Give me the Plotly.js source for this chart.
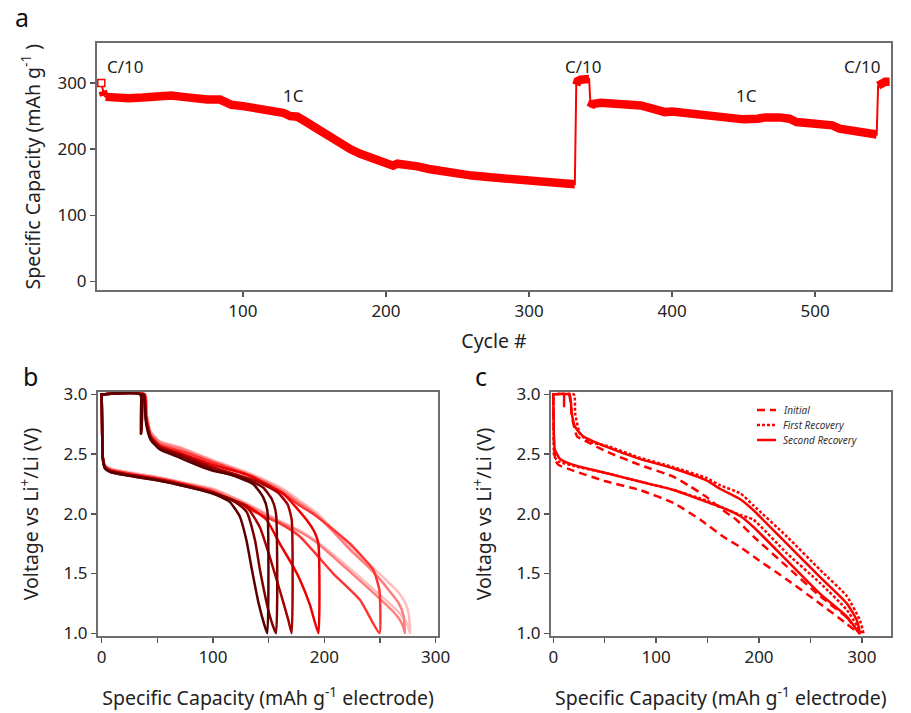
<!DOCTYPE html>
<html><head><meta charset="utf-8">
<script src="https://cdn.plot.ly/plotly-3.0.1.min.js"></script>
<style>html,body{margin:0;padding:0;background:#fff}#chart{width:911px;height:713px}</style>
</head><body><div id="chart"></div>
<script>
// ---------- Panel a : capacity vs cycle ----------
const cycC10a = [1, 2, 3];
const capC10a = [300, 288, 281];
const cyc1Ca = [4,10,20,30,38,44,50,58,65,75,84,87,92,100,110,120,128,133,138,142,148,155,161,168,175,182,190,199,205,208,215,222,230,240,250,260,275,290,303,315,322,326,332];
const cap1Ca = [279,278,277,278,280,282,281,279,277,275,275,271,267,265,262,259,255,250,249,244,236,225,216,207,200,193,187,180,175,178,177,174,170,166,163,160,157,155,154,152,151,148,147];
const cycC10b = [333, 334, 336, 339, 342];
const capC10b = [297, 303, 305, 305, 306];
const cyc1Cb = [343,344,350,360,370,378,385,390,395,400,410,420,430,440,450,460,465,475,482,487,495,505,512,517,522,530,537,543];
const cap1Cb = [263,268,270,269,268,266,262,259,256,257,255,252,249,246,245,246,248,248,246,241,240,238,236,231,229,225,223,222];
const cycC10c = [544, 546, 549, 552];
const capC10c = [296, 300, 302, 302];
const rateLabels = ['C/10', '1C', 'C/10', '1C', 'C/10'];
const rateLabelCycle = [18, 135, 338, 452, 533];
const rateLabelCap = [325, 281, 325, 281, 325];

// ---------- Panel b : voltage profiles (charge branch "Up", discharge branch "Low") ----------
const b1UpQ = [148.8,148.8,145,136,115,100,88,70,52,44,40,37.5,36,35.2,34.5,0];
const b1UpV = [1.0,2.03,2.14,2.25,2.33,2.36,2.40,2.47,2.54,2.62,2.75,3.0,3.0,2.67,3.0,3.0];
const b1LowQ = [0,0.3,0.8,1.5,3,8,30,50,75,100,115,124,130,135,141,146.5,148.8];
const b1LowV = [3.0,2.8,2.5,2.43,2.38,2.35,2.31,2.28,2.23,2.17,2.10,1.98,1.78,1.53,1.25,1.06,1.0];

const b2UpQ = [156.6,156.6,153,145,130,100,70,52,44,40,37.8,36.2,35.5,34.8,0];
const b2UpV = [1.0,2.0,2.12,2.22,2.29,2.37,2.49,2.55,2.63,2.77,3.0,3.0,2.67,3.0,3.0];
const b2LowQ = [0,0.3,0.8,1.5,3,8,30,50,75,100,118,130,137.7,142.2,151.2,156.6];
const b2LowV = [3.0,2.8,2.5,2.43,2.38,2.35,2.31,2.28,2.23,2.17,2.11,2.02,1.78,1.53,1.14,1.0];

const b3UpQ = [170.7,170.7,167,158,140,100,70,52,44,40,38,36.5,35.8,35,0];
const b3UpV = [1.0,1.95,2.08,2.18,2.27,2.39,2.50,2.56,2.64,2.78,3.0,3.0,2.7,3.0,3.0];
const b3LowQ = [0,0.3,0.8,1.5,3,8,30,50,75,100,130,142,151,160,167.7,170.7];
const b3LowV = [3.0,2.8,2.5,2.43,2.39,2.36,2.32,2.29,2.24,2.18,2.06,1.89,1.64,1.36,1.11,1.0];

const b4UpQ = [194.7,194.7,191.6,184,163,133,100,70,52,44,40,38.3,0];
const b4UpV = [1.0,1.75,1.84,1.95,2.17,2.32,2.41,2.51,2.57,2.65,2.8,3.0,3.0];
const b4LowQ = [0,0.3,0.8,1.5,3,8,30,50,75,100,130,148,160,172,178,187,194.7];
const b4LowV = [3.0,2.8,2.5,2.44,2.39,2.36,2.32,2.29,2.24,2.18,2.07,1.95,1.75,1.56,1.45,1.24,1.0];

const b5UpQ = [249.5,249.5,244,223,193,178,163,145,130,100,70,52,44,40,38.6,0];
const b5UpV = [1.0,1.36,1.53,1.75,1.98,2.07,2.17,2.26,2.33,2.43,2.53,2.58,2.66,2.82,3.0,3.0];
const b5LowQ = [0,0.3,0.8,1.5,3,8,30,50,75,100,130,160,178,208,232,249.5];
const b5LowV = [3.0,2.8,2.5,2.44,2.40,2.37,2.33,2.30,2.25,2.19,2.05,1.92,1.81,1.50,1.28,1.0];

const b6UpQ = [272.5,271,267,258,253,238,223,208,193,178,163,145,130,100,70,52,44,40,39,0];
const b6UpV = [1.0,1.15,1.25,1.36,1.42,1.57,1.70,1.85,1.99,2.09,2.19,2.28,2.34,2.44,2.55,2.60,2.68,2.85,3.0,3.0];
const b6LowQ = [0,0.3,0.8,1.5,3,8,30,50,75,100,130,160,178,193,208,238,262,268,271,272.5];
const b6LowV = [3.0,2.8,2.5,2.45,2.40,2.37,2.33,2.30,2.25,2.20,2.08,1.93,1.85,1.76,1.64,1.39,1.18,1.11,1.05,1.0];

const b7UpQ = [277,276,273,266,255,238,223,208,193,178,163,145,130,100,70,52,44,40,39.3,0];
const b7UpV = [1.0,1.15,1.25,1.35,1.45,1.60,1.72,1.87,2.01,2.11,2.21,2.29,2.35,2.45,2.56,2.61,2.69,2.86,3.0,3.0];
const b7LowQ = [0,0.3,0.8,1.5,3,8,30,50,75,100,130,160,178,193,208,238,262,272,275.5,277];
const b7LowV = [3.0,2.8,2.5,2.45,2.41,2.38,2.34,2.31,2.26,2.21,2.09,1.94,1.86,1.77,1.66,1.42,1.22,1.12,1.05,1.0];

const bColors = ['#5a0000', '#7c0000', '#a80000', '#ee0000', '#ff3535', '#ff7d7d', '#ffbcbc'];

// ---------- Panel c : initial vs recoveries ----------
const cNames = ['Initial', 'First Recovery', 'Second Recovery'];
const cInitUpQ = [297,285.4,259.4,227,194.6,178,165,149,133,117,84,52,29,23,18.2,15,0];
const cInitUpV = [1.0,1.13,1.31,1.56,1.81,1.95,2.03,2.14,2.23,2.31,2.41,2.52,2.62,2.65,2.81,3.0,3.0];
const cInitLowQ = [0,0.7,2,5,20,52,84,117,143,165,182,195,227,259,285,297];
const cInitLowV = [3.0,2.6,2.45,2.41,2.36,2.27,2.20,2.09,1.95,1.81,1.72,1.64,1.45,1.25,1.08,1.0];

const cRec1UpQ = [301.6,298,285.4,259.4,227,194.6,182,162,149,117,84,52,36,26,21.3,20,0];
const cRec1UpV = [1.0,1.11,1.31,1.53,1.81,2.07,2.17,2.24,2.30,2.39,2.47,2.57,2.60,2.67,2.84,3.0,3.0];
const cRec1LowQ = [0,0.4,1,5,20,52,84,117,149,165,182,194.6,227,259.4,285.4,299.6];
const cRec1LowV = [3.0,2.7,2.48,2.44,2.40,2.34,2.27,2.20,2.11,2.05,1.99,1.95,1.67,1.42,1.195,1.0];

const cRec2UpQ = [298,295,285.4,259.4,227,194.6,182,162,149,117,84,52,29,21,18,16,11,10.5,10,0];
const cRec2UpV = [1.0,1.11,1.25,1.47,1.75,2.03,2.12,2.21,2.28,2.38,2.46,2.56,2.65,2.73,2.84,3.0,3.0,2.9,3.0,3.0];
const cRec2LowQ = [0,0.5,1.5,6.5,19.5,52,84,117,149,165,182,194.6,227,259.4,285.4,298];
const cRec2LowV = [3.0,2.7,2.54,2.46,2.41,2.34,2.27,2.20,2.10,2.05,1.98,1.89,1.61,1.33,1.14,1.0];

// ---------- build ----------
const W = 911, H = 713;
const FONT = '"Noto Sans", "Open Sans", sans-serif';
const RED = '#ff0000';
const traces = [];

// panel a thin connector through all points
traces.push({
  x: [].concat(cycC10a, cyc1Ca, cycC10b, cyc1Cb, cycC10c),
  y: [].concat(capC10a, cap1Ca, capC10b, cap1Cb, capC10c),
  xaxis: 'x', yaxis: 'y', mode: 'lines', line: {color: RED, width: 2}, showlegend: false, hoverinfo: 'skip'
});
[[cycC10a.slice(1), capC10a.slice(1)], [cyc1Ca, cap1Ca], [cycC10b, capC10b], [cyc1Cb, cap1Cb], [cycC10c, capC10c]].forEach(function (s) {
  traces.push({x: s[0], y: s[1], xaxis: 'x', yaxis: 'y', mode: 'lines',
    line: {color: RED, width: 8.5}, showlegend: false});
});
traces.push({x: [cycC10a[0]], y: [capC10a[0]], xaxis: 'x', yaxis: 'y', mode: 'markers',
  marker: {symbol: 'square', size: 7, color: '#fff', line: {color: RED, width: 1.5}}, showlegend: false});

// panel b (light first, dark on top)
const bUpQ = [b1UpQ, b2UpQ, b3UpQ, b4UpQ, b5UpQ, b6UpQ, b7UpQ];
const bUpV = [b1UpV, b2UpV, b3UpV, b4UpV, b5UpV, b6UpV, b7UpV];
const bLowQ = [b1LowQ, b2LowQ, b3LowQ, b4LowQ, b5LowQ, b6LowQ, b7LowQ];
const bLowV = [b1LowV, b2LowV, b3LowV, b4LowV, b5LowV, b6LowV, b7LowV];
for (let i = 6; i >= 0; i--) {
  traces.push({x: bUpQ[i].concat(bLowQ[i]), y: bUpV[i].concat(bLowV[i]), xaxis: 'x2', yaxis: 'y2',
    mode: 'lines', line: {color: bColors[i], width: 2.5, shape: 'spline', smoothing: 0.5}, showlegend: false});
}

// panel c
const cUpQ = [cInitUpQ, cRec1UpQ, cRec2UpQ], cUpV = [cInitUpV, cRec1UpV, cRec2UpV];
const cLowQ = [cInitLowQ, cRec1LowQ, cRec2LowQ], cLowV = [cInitLowV, cRec1LowV, cRec2LowV];
const cDash = ['8px,5px', '3px,2px', 'solid'];
for (let i = 0; i < 3; i++) {
  traces.push({x: cUpQ[i].concat(cLowQ[i]), y: cUpV[i].concat(cLowV[i]), xaxis: 'x3', yaxis: 'y3',
    name: cNames[i], mode: 'lines', line: {color: RED, width: 2.5, dash: cDash[i], shape: 'spline', smoothing: 0.5},
    showlegend: false});
}

const ax = {showline: true, linecolor: '#6e6e6e', linewidth: 2, mirror: true, ticks: 'outside', ticklen: 5,
  tickcolor: '#555', tickwidth: 1.5, showgrid: false, zeroline: false,
  tickfont: {family: FONT, size: 17, color: '#222'}, automargin: false};
function A(extra) { return Object.assign({}, ax, extra); }
const titleFont = {family: FONT, size: 19.5, color: '#222'};
const minorX = {dtick: 50, ticks: 'outside', ticklen: 5, tickcolor: '#555', tickwidth: 1.5, showgrid: false};

const annotations = rateLabels.map(function (t, i) {
  return {text: t, x: rateLabelCycle[i], y: rateLabelCap[i], xref: 'x', yref: 'y', showarrow: false,
    font: {family: FONT, size: 17, color: '#222'}};
});
[['a', 22, 17], ['b', 30, 376], ['c', 481, 376]].forEach(function (p) {
  annotations.push({text: p[0], x: p[1] / W, y: 1 - p[2] / H, xref: 'paper', yref: 'paper', showarrow: false,
    xanchor: 'center', yanchor: 'middle', font: {family: FONT, size: 25, color: '#111'}});
});
// legend of panel c (text entries + line samples)
const legY = [410, 425, 440];
const shapes = [];
for (let i = 0; i < 3; i++) {
  annotations.push({text: cNames[i], x: 781 / W, y: 1 - legY[i] / H, xref: 'paper', yref: 'paper', showarrow: false,
    xanchor: 'left', yanchor: 'middle', font: {family: FONT, size: 10, color: '#333', style: 'italic'}});
  shapes.push({type: 'line', xref: 'paper', yref: 'paper', x0: 757 / W, x1: 776 / W, y0: 1 - legY[i] / H, y1: 1 - legY[i] / H,
    line: {color: RED, width: 2.5, dash: cDash[i]}});
}

const layout = {
  width: W, height: H, margin: {l: 0, r: 0, t: 0, b: 0}, paper_bgcolor: '#fff', plot_bgcolor: '#fff',
  font: {family: FONT, size: 17},
  xaxis: A({domain: [97 / W, 891 / W], range: [-2, 553], tickvals: [100, 200, 300, 400, 500], anchor: 'y',
    title: {text: 'Cycle #', font: titleFont, standoff: 13}}),
  yaxis: A({domain: [1 - 290 / H, 1 - 43.3 / H], range: [-13, 360], tickvals: [0, 100, 200, 300], anchor: 'x',
    title: {text: 'Specific Capacity (mAh g<sup>-1</sup> )', font: titleFont, standoff: 12}}),
  xaxis2: A({domain: [98 / W, 438.3 / W], range: [-3.3, 302.4], tickvals: [0, 100, 200, 300], minor: minorX, anchor: 'y2',
    title: {text: 'Specific Capacity (mAh g<sup>-1</sup> electrode)', font: titleFont, standoff: 24}}),
  yaxis2: A({domain: [1 - 636 / H, 1 - 392 / H], range: [0.977, 3.02], tickvals: [1, 1.5, 2, 2.5, 3], tickformat: '.1f', anchor: 'x2',
    title: {text: 'Voltage vs Li<sup>+</sup>/Li (V)', font: titleFont, standoff: 20}}),
  xaxis3: A({domain: [551 / W, 890.7 / W], range: [-2.2, 328], tickvals: [0, 100, 200, 300], minor: minorX, anchor: 'y3',
    title: {text: 'Specific Capacity (mAh g<sup>-1</sup> electrode)', font: titleFont, standoff: 24}}),
  yaxis3: A({domain: [1 - 636 / H, 1 - 392 / H], range: [0.977, 3.02], tickvals: [1, 1.5, 2, 2.5, 3], tickformat: '.1f', anchor: 'x3',
    title: {text: 'Voltage vs Li<sup>+</sup>/Li (V)', font: titleFont, standoff: 20}}),
  annotations: annotations,
  shapes: shapes,
  showlegend: false
};

Plotly.newPlot('chart', traces, layout, {displayModeBar: false, staticPlot: true});
</script>
</body></html>
